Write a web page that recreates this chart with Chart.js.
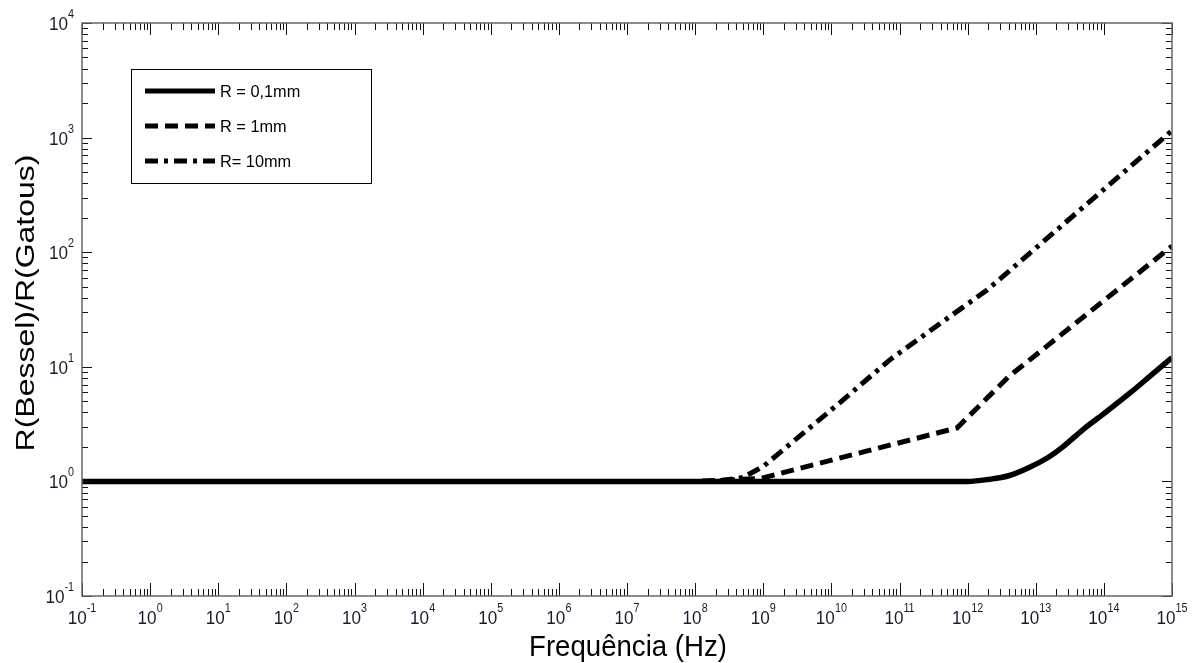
<!DOCTYPE html>
<html>
<head>
<meta charset="utf-8">
<script src="https://cdn.jsdelivr.net/npm/chart.js@4"></script>
<style>
  body { margin: 0; background: #fff; }
  #wrap { width: 1192px; height: 663px; position: relative; }
</style>
</head>
<body>
<div id="wrap"><canvas id="plot"></canvas></div>
<script>
// values (frequency in Hz, ratio R(Bessel)/R(Gatous))
const solidF = [1e-1, 1e12, 2e12, 4e12, 8e12, 1.6e13, 2.5e13, 5e13, 1e14, 2.5e14, 5e14, 1e15];
const solidR = [1, 1, 1.04, 1.12, 1.32, 1.65, 2.0, 2.85, 3.9, 6.0, 8.5, 12];

const dashedF = [1e-1, 1e8, 9e8, 7e11, 4e12, 1e15];
const dashedR = [1, 1, 1.06, 2.93, 8.2, 113];

const dashDotF = [1e-1, 2e8, 5e8, 1e9, 1.35e10, 7.2e10, 4e11, 1.95e12, 1e15];
const dashDotR = [1, 1, 1.08, 1.35, 4.9, 11.5, 24, 47, 1150];

const seriesNames = ['R = 0,1mm', 'R = 1mm', 'R= 10mm'];
const xTickExp = [-1, 0, 1, 2, 3, 4, 5, 6, 7, 8, 9, 10, 11, 12, 13, 14, 15];
const yTickExp = [-1, 0, 1, 2, 3, 4];

const xTitle = 'Frequência (Hz)';
const yTitle = 'R(Bessel)/R(Gatous)';

const FONT = "Arial, 'Liberation Sans', sans-serif";

function pts(f, r) {
    return f.map((v, i) => ({x: v, y: r[i]}));
}

// text squeezed sideways a bit, like the original bitmap
function txt(ctx, s, x, y, size, sx, align) {
    ctx.save();
    ctx.font = size + 'px ' + FONT;
    const w = ctx.measureText(s).width * sx;
    let left = x;
    if (align === 'center') left = x - w / 2;
    if (align === 'right') left = x - w;
    ctx.translate(left, y);
    ctx.scale(sx, 1);
    ctx.textAlign = 'left';
    ctx.fillText(s, 0, 0);
    ctx.restore();
    return w;
}

function powLabel(ctx, exp, x, y, align) {
    // "10" + raised exponent
    ctx.save();
    ctx.font = '19px ' + FONT;
    const wb = ctx.measureText('10').width * 0.9;
    ctx.font = '12px ' + FONT;
    const we = ctx.measureText(String(exp)).width * 0.9;
    ctx.restore();
    let left = x;
    if (align === 'center') left = x - (wb + we) / 2;
    if (align === 'right') left = x - (wb + we);
    txt(ctx, '10', left, y, 19, 0.9, 'left');
    txt(ctx, String(exp), left + wb, y - 12, 12, 0.9, 'left');
}

const axesPlugin = {
    id: 'axesPlugin',
    afterDraw(chart) {
        const ctx = chart.ctx;
        const a = chart.chartArea;
        const xs = chart.scales.x, ys = chart.scales.y;
        ctx.save();

        // tick marks, pointing inwards on all four sides
        ctx.strokeStyle = '#111';
        ctx.lineWidth = 1;
        ctx.beginPath();
        xTickExp.forEach(e => {
            const px = Math.round(xs.getPixelForValue(Math.pow(10, e))) + 0.5;
            ctx.moveTo(px, a.bottom); ctx.lineTo(px, a.bottom - 13);
            ctx.moveTo(px, a.top); ctx.lineTo(px, a.top + 12);
            if (e < 14) {
                for (let m = 2; m <= 9; m++) {
                    const p = Math.round(xs.getPixelForValue(m * Math.pow(10, e))) + 0.5;
                    ctx.moveTo(p, a.bottom); ctx.lineTo(p, a.bottom - 7);
                    ctx.moveTo(p, a.top); ctx.lineTo(p, a.top + 7);
                }
            }
        });
        yTickExp.forEach(e => {
            const py = Math.round(ys.getPixelForValue(Math.pow(10, e))) + 0.5;
            ctx.moveTo(a.left, py); ctx.lineTo(a.left + 10, py);
            ctx.moveTo(a.right, py); ctx.lineTo(a.right - 10, py);
            if (e < 4) {
                for (let m = 2; m <= 9; m++) {
                    const p = Math.round(ys.getPixelForValue(m * Math.pow(10, e))) + 0.5;
                    ctx.moveTo(a.left, p); ctx.lineTo(a.left + 6, p);
                    ctx.moveTo(a.right, p); ctx.lineTo(a.right - 6, p);
                }
            }
        });
        ctx.stroke();

        // frame
        ctx.strokeStyle = '#666';
        ctx.lineWidth = 1.5;
        ctx.strokeRect(a.left, a.top, a.right - a.left, a.bottom - a.top);

        // tick labels
        ctx.fillStyle = '#1a1a2e';
        xTickExp.forEach(e => {
            powLabel(ctx, e, xs.getPixelForValue(Math.pow(10, e)), a.bottom + 28, 'center');
        });
        yTickExp.forEach(e => {
            powLabel(ctx, e, a.left - 8, ys.getPixelForValue(Math.pow(10, e)) + 7, 'right');
        });

        // axis titles
        ctx.fillStyle = '#000';
        txt(ctx, xTitle, (a.left + a.right) / 2 + 1, 656, 30, 0.92, 'center');
        ctx.save();
        ctx.translate(34, 303);
        ctx.scale(0.82, 1);
        ctx.rotate(-Math.PI / 2);
        ctx.font = '32px ' + FONT;
        ctx.textAlign = 'center';
        ctx.fillText(yTitle, 0, 0);
        ctx.restore();

        // legend box
        const lx = 131, ly = 69, lw = 240, lh = 114;
        ctx.fillStyle = '#fff';
        ctx.fillRect(lx, ly, lw, lh);
        ctx.strokeStyle = '#000';
        ctx.lineWidth = 1;
        ctx.strokeRect(lx + 0.5, ly + 0.5, lw, lh);
        const rows = [91, 126, 161];
        chart.data.datasets.forEach((ds, i) => {
            ctx.save();
            ctx.strokeStyle = ds.borderColor;
            ctx.lineWidth = 5;
            ctx.setLineDash(ds.borderDash || []);
            ctx.beginPath();
            ctx.moveTo(145, rows[i]);
            ctx.lineTo(215, rows[i]);
            ctx.stroke();
            ctx.restore();
            ctx.fillStyle = '#000';
            txt(ctx, ds.label, 220, rows[i] + 6, 16, 1.02, 'left');
        });
        ctx.restore();
    }
};

new Chart(document.getElementById('plot'), {
    type: 'line',
    data: {
        datasets: [
            {label: seriesNames[0], data: pts(solidF, solidR), borderColor: '#000', borderWidth: 5.5,
             pointRadius: 0, cubicInterpolationMode: 'monotone', borderCapStyle: 'butt'},
            {label: seriesNames[1], data: pts(dashedF, dashedR), borderColor: '#000', borderWidth: 5,
             borderDash: [13, 7], pointRadius: 0, tension: 0, borderCapStyle: 'butt'},
            {label: seriesNames[2], data: pts(dashDotF, dashDotR), borderColor: '#000', borderWidth: 5,
             borderDash: [13, 6, 4, 6], pointRadius: 0, tension: 0, borderCapStyle: 'butt'}
        ]
    },
    options: {
        responsive: true,
        maintainAspectRatio: false,
        animation: false,
        layout: {padding: {left: 82, right: 20, top: 23, bottom: 67}},
        plugins: {legend: {display: false}, tooltip: {enabled: false}},
        scales: {
            x: {type: 'logarithmic', min: 1e-1, max: 1e15, display: false},
            y: {type: 'logarithmic', min: 1e-1, max: 1e4, display: false}
        }
    },
    plugins: [axesPlugin]
});
</script>
</body>
</html>
